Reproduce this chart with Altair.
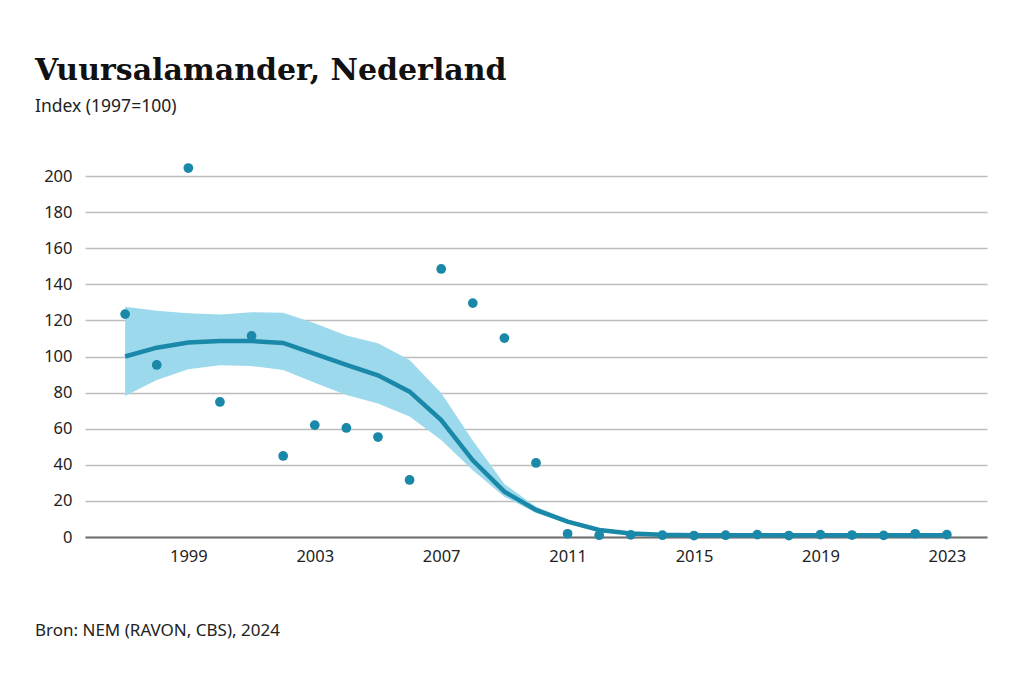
import altair as alt
import pandas as pd

years = list(range(1997, 2024))
index_values = [123.5, 95.3, 204.4, 74.8, 111.4, 44.9, 62.0, 60.4, 55.4, 31.6,
                148.5, 129.6, 110.2, 41.0, 1.8, 1.0, 1.2, 1.0, 0.8, 1.0,
                1.3, 0.8, 1.3, 1.1, 0.9, 1.8, 1.3]
trend = [100.0, 104.9, 107.7, 108.6, 108.6, 107.5, 101.4, 95.3, 89.6, 80.5,
         64.8, 42.5, 25.1, 15.0, 8.5, 3.9, 2.0, 1.2, 1.0, 1.0,
         1.0, 1.0, 1.0, 1.0, 1.0, 1.0, 1.0]
lower = [78.1, 87.0, 92.9, 95.1, 94.7, 92.5, 85.5, 78.7, 74.0, 66.7,
         53.7, 37.0, 22.3, 13.3, 7.5, 3.4, 1.7, 0.9, 0.8, 0.8,
         0.8, 0.8, 0.8, 0.8, 0.8, 0.8, 0.8]
upper = [127.6, 125.4, 123.9, 123.3, 124.5, 124.3, 118.4, 111.7, 107.3, 98.0,
         79.8, 53.5, 29.4, 16.8, 9.6, 4.6, 2.4, 1.4, 1.2, 1.2,
         1.2, 1.2, 1.2, 1.2, 1.2, 1.2, 1.2]
x_ticks = [1999, 2003, 2007, 2011, 2015, 2019, 2023]
y_ticks = list(range(0, 201, 20))

title_text = "Vuursalamander, Nederland"
subtitle_text = "Index (1997=100)"
source_text = "Bron: NEM (RAVON, CBS), 2024"

df = pd.DataFrame({"jaar": years, "index": index_values, "trend": trend,
                   "lower": lower, "upper": upper})

DOT = "#1a88a8"
BAND = "#9dd9ec"
SANS = "Noto Sans"

x_scale = alt.Scale(domain=[1995.73, 2024.27], nice=False, zero=False)
x_axis = alt.Axis(values=x_ticks, tickCount=30, format="d", title=None, grid=False, ticks=False,
                  domainColor="#707070", domainWidth=2, labelFontSize=16.5,
                  labelFont=SANS, labelColor="#222222", labelPadding=11,
                  labelOverlap=False)
y_scale = alt.Scale(domain=[0, 200], nice=False)
y_axis = alt.Axis(values=y_ticks, tickCount=30, title=None, domain=False, ticks=False,
                  gridColor="#bdbdbd", gridWidth=1.6, labelFontSize=16.5, labelFont=SANS,
                  labelColor="#222222", labelPadding=13, labelOverlap=False)

base = alt.Chart(df)

band = base.mark_area(color=BAND, opacity=1).encode(
    x=alt.X("jaar:Q", scale=x_scale, axis=x_axis),
    y=alt.Y("lower:Q", scale=y_scale, axis=y_axis),
    y2="upper:Q",
)
line = base.mark_line(color=DOT, strokeWidth=4.5).encode(
    x=alt.X("jaar:Q", scale=x_scale, axis=x_axis),
    y=alt.Y("trend:Q", scale=y_scale, axis=y_axis))
points = base.mark_circle(color=DOT, size=95, opacity=1).encode(
    x=alt.X("jaar:Q", scale=x_scale, axis=x_axis),
    y=alt.Y("index:Q", scale=y_scale, axis=y_axis))

title = alt.Chart(pd.DataFrame({"t": [title_text]})).mark_text(
    align="left", baseline="alphabetic", font="DejaVu Serif",
    fontWeight="bold", fontSize=30, color="#111111").encode(
    x=alt.value(-50), y=alt.value(-96), text="t:N")
sub = alt.Chart(pd.DataFrame({"t": [subtitle_text]})).mark_text(
    align="left", baseline="alphabetic", font=SANS, fontSize=17.5, color="#222222").encode(
    x=alt.value(-50), y=alt.value(-64), text="t:N")
src = alt.Chart(pd.DataFrame({"t": [source_text]})).mark_text(
    align="left", baseline="alphabetic", font=SANS, fontSize=17, color="#222222").encode(
    x=alt.value(-50), y=alt.value(460), text="t:N")

chart = alt.layer(band, line, points, title, sub, src).properties(
    width=902, height=361,
    background="white",
    autosize=alt.AutoSizeParams(type="none"),
    padding={"left": 77, "top": 168, "right": 25, "bottom": 110},
).configure_view(stroke=None)

chart.save("out.html", embed_options={"renderer": "svg", "actions": False})
